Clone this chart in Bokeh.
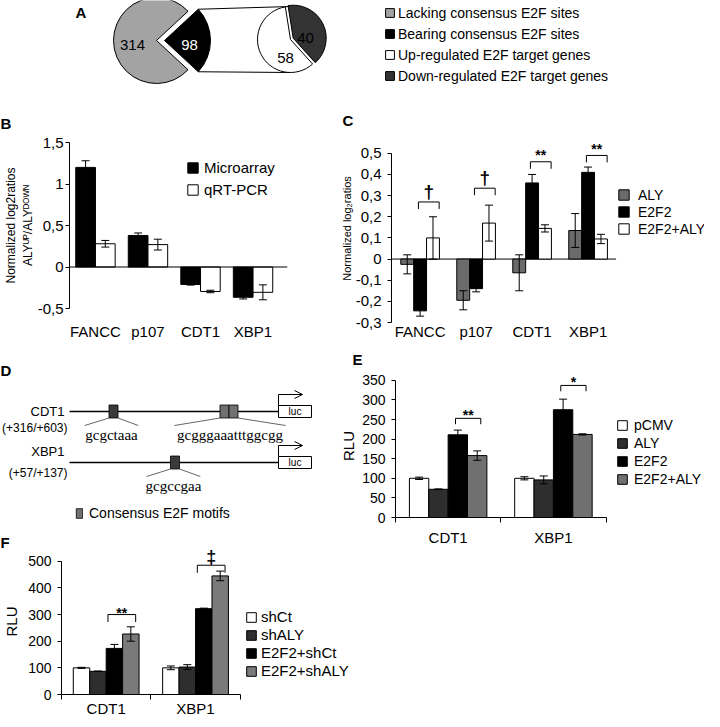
import math
import numpy as np
from bokeh.plotting import figure
from bokeh.models import (Range1d, Span, Whisker, ColumnDataSource, Legend, LegendItem,
                          FixedTicker, SingleIntervalTicker, TeeHead, Arrow, OpenHead,
                          CustomJSTickFormatter)
from bokeh.layouts import column, row
from bokeh.core.properties import value
from bokeh.embed import file_html
from bokeh.resources import INLINE

FONT = "Liberation Sans"
SERIF = "Liberation Serif"

# ---------------- data ----------------
a_outer_names = ["Lacking consensus E2F sites", "Bearing consensus E2F sites"]
a_outer_counts = [314, 98]
a_inner_names = ["Up-regulated E2F target genes", "Down-regulated E2F target genes"]
a_inner_counts = [58, 40]

genes_b = ["FANCC", "p107", "CDT1", "XBP1"]
microarray = [1.20, 0.38, -0.21, -0.365]
microarray_err = [0.08, 0.03, 0.008, 0.02]
qrtpcr = [0.28, 0.27, -0.295, -0.305]
qrtpcr_err = [0.04, 0.065, 0.015, 0.09]
b_ticks = [-0.5, 0, 0.5, 1, 1.5]

genes_c = ["FANCC", "p107", "CDT1", "XBP1"]
c_aly = [-0.025, -0.195, -0.065, 0.135]
c_aly_err = [0.045, 0.045, 0.085, 0.08]
c_e2f2 = [-0.245, -0.14, 0.36, 0.41]
c_e2f2_err = [0.025, 0.015, 0.04, 0.025]
c_e2f2aly = [0.10, 0.17, 0.145, 0.095]
c_e2f2aly_err = [0.10, 0.085, 0.017, 0.022]
c_sig = ["†", "†", "**", "**"]
c_sig_y = [0.27, 0.335, 0.46, 0.49]
c_ticks = [-0.3, -0.2, -0.1, 0, 0.1, 0.2, 0.3, 0.4, 0.5]

d_promoters = ["CDT1", "XBP1"]
d_regions = ["(+316/+603)", "(+57/+137)"]
d_motif_promoter = [0, 0, 0, 1]
d_motif_pos = [113, 224, 233, 174.5]
d_motif_shade = ["#3a3a3a", "#707070", "#707070", "#3a3a3a"]
d_seqs = ["gcgctaaa", "gcgggaaatttggcgg", "gcgccgaa"]
d_seq_motifs = [[0], [1, 2], [3]]
d_seq_pos = [111, 229.5, 173]

genes_e = ["CDT1", "XBP1"]
e_names = ["pCMV", "ALY", "E2F2", "E2F2+ALY"]
e_pcmv = [100, 100]
e_pcmv_err = [3, 4]
e_aly = [72, 96]
e_aly_err = [1, 10]
e_e2f2 = [211, 275]
e_e2f2_err = [12, 27]
e_e2f2aly = [158, 212]
e_e2f2aly_err = [12, 1.5]
e_sig = ["**", "*"]
e_sig_y = [253, 337]

genes_f = ["CDT1", "XBP1"]
f_names = ["shCt", "shALY", "E2F2+shCt", "E2F2+shALY"]
f_shct = [100, 100]
f_shct_err = [2, 7]
f_shaly = [87, 103]
f_shaly_err = [1, 9]
f_e2f2shct = [173, 322]
f_e2f2shct_err = [15, 2]
f_e2f2shaly = [227, 445]
f_e2f2shaly_err = [27, 18]
f_sig = ["**", "‡"]
f_sig_y = [300, 485]


def make_fig(width, height, x_range, y_range, left, right, top, bottom, axes=True):
    kw = {}
    if not axes:
        kw = dict(x_axis_location=None, y_axis_location=None)
    p = figure(width=width, height=height, x_range=x_range, y_range=y_range,
               toolbar_location=None, output_backend="svg", **kw)
    p.frame_align = False
    p.min_border = 0
    p.min_border_left = left
    p.min_border_right = right
    p.min_border_top = top
    p.min_border_bottom = bottom
    p.outline_line_color = None
    p.grid.visible = False
    p.background_fill_color = "white"
    p.border_fill_color = "white"
    return p


def style_axis(ax, fs="15px"):
    ax.major_label_text_font = FONT
    ax.major_label_text_font_size = fs
    ax.major_label_text_color = "black"
    ax.axis_line_color = "black"
    ax.axis_line_width = 1
    ax.major_tick_line_color = "black"
    ax.minor_tick_line_color = None
    ax.axis_label_text_font = FONT
    ax.axis_label_text_font_style = "normal"
    ax.axis_label_text_color = "black"


def add_bars(p, xs, tops, errs, width, color):
    xs = [float(v) for v in xs]
    src = ColumnDataSource(dict(x=xs, top=tops,
                                upper=[t + e for t, e in zip(tops, errs)],
                                lower=[t - e for t, e in zip(tops, errs)]))
    r = p.vbar(x="x", top="top", bottom=0, width=width, source=src,
               fill_color=color, line_color="black", line_width=1)
    w = Whisker(source=src, base="x", upper="upper", lower="lower", level="overlay",
                line_color="black", line_width=1,
                upper_head=TeeHead(size=8, line_color="black", line_width=1),
                lower_head=TeeHead(size=8, line_color="black", line_width=1))
    p.add_layout(w)
    return r


def add_brackets(p, centers, x0, x1, ys, legs, labels, sizes, offsets):
    xs = [[c + x0, c + x0, c + x1, c + x1] for c in centers]
    yss = [[y - g, y, y, y - g] for y, g in zip(ys, legs)]
    p.multi_line(xs, yss, line_color="black", line_width=1)
    p.text(x=[c + (x0 + x1) / 2 for c in centers], y=list(ys), text=list(labels),
           text_align="center", text_baseline="bottom", text_font=value(FONT),
           text_font_size=list(sizes), y_offset=list(offsets),
           text_font_style="bold", text_color="black")


def make_legend(items, loc, glyph_w, glyph_h, fs, spacing, standoff):
    lg = Legend(items=items, location=loc, orientation="vertical")
    lg.glyph_width = glyph_w
    lg.glyph_height = glyph_h
    lg.label_height = glyph_h
    lg.label_text_font = FONT
    lg.label_text_font_size = fs
    lg.label_text_color = "black"
    lg.spacing = spacing
    lg.label_standoff = standoff
    lg.padding = 0
    lg.margin = 0
    lg.border_line_color = None
    lg.background_fill_alpha = 0
    return lg


def letter(p, x, y, txt):
    p.text(x=[x], y=[y], text=[txt], text_align="left", text_baseline="alphabetic",
           text_font=value(FONT), text_font_size="15px", text_font_style="bold", text_color="black")


comma_fmt = CustomJSTickFormatter(code="return String(Math.round(tick*10)/10).replace('.', ',');")

# ---------------- Panel A (carries the B and C panel letters too) ----------------
# the pie figure's layout slot comes out 8px shorter than its canvas, hence height 134
pA = make_fig(704, 134, Range1d(0, 704), Range1d(0, 134), 0, 0, 0, 0, axes=False)
tot_out = sum(a_outer_counts)
half = math.pi * a_outer_counts[1] / tot_out
cx1, cy1, r1 = 156, 94, 43
bx, rb = cx1 + 8, 46
tot_in = sum(a_inner_counts)
cx2, cy2, r2 = 290, 95, 33
top_ang = math.radians(99)
span_dark = 2 * math.pi * a_inner_counts[1] / tot_in
d_start = top_ang - span_dark
mid_dark = top_ang - span_dark / 2
ex = 3
pA.segment(x0=[bx + rb * math.cos(half)] * 2,
           y0=[cy1 + rb * math.sin(half), cy1 - rb * math.sin(half)],
           x1=[cx2, cx2], y1=[cy2 + r2, cy2 - r2], line_color="black", line_width=1)
rA1 = pA.wedge(x=[cx1], y=[cy1], radius=r1, start_angle=half, end_angle=2 * math.pi - half,
               fill_color="#a3a3a3", line_color="black", line_width=1)
rA2 = pA.wedge(x=[bx], y=[cy1], radius=rb, start_angle=-half, end_angle=half,
               fill_color="black", line_color="black", line_width=1)
rA3 = pA.wedge(x=[cx2], y=[cy2], radius=r2, start_angle=top_ang, end_angle=d_start + 2 * math.pi,
               fill_color="white", line_color="black", line_width=1)
rA4 = pA.wedge(x=[cx2 + ex * math.cos(mid_dark)], y=[cy2 + ex * math.sin(mid_dark)], radius=r2,
               start_angle=d_start, end_angle=top_ang,
               fill_color="#333333", line_color="black", line_width=1)
pA.text(x=[132, 189, 285, 305], y=[90, 90, 77, 97],
        text=[str(v) for v in a_outer_counts + a_inner_counts],
        text_color=["black", "white", "black", "black"], text_align="center",
        text_baseline="middle", text_font=value(FONT), text_font_size="15px")
letter(pA, 75, 122, "A")
letter(pA, 0, 11, "B")
letter(pA, 342, 14, "C")
pA.add_layout(make_legend([LegendItem(label=n, renderers=[r]) for n, r in
                           zip(a_outer_names + a_inner_names, [rA1, rA2, rA3, rA4])],
                          (384, 50.5), 11, 11, "14px", 5, 3))

# ---------------- Panel B ----------------
nB = len(genes_b)
xB = np.arange(nB)
bwB = 0.375
pB = make_fig(337, 208, Range1d(-0.494, 3.656), Range1d(-0.5, 1.5), 60, 50, 8, 32)
r_mic = add_bars(pB, xB - bwB / 2, microarray, microarray_err, bwB, "black")
r_q = add_bars(pB, xB + bwB / 2, qrtpcr, qrtpcr_err, bwB, "white")
pB.add_layout(Span(location=0, dimension="width", line_color="black", line_width=1))
style_axis(pB.yaxis[0])
pB.yaxis.ticker = FixedTicker(ticks=b_ticks)
pB.yaxis.formatter = comma_fmt
pB.yaxis.major_tick_out = 4
pB.yaxis.major_tick_in = 0
pB.yaxis.major_label_standoff = 2
pB.yaxis.axis_label = "Normalized log2ratios\nALYᵁᴾ/ALYᴰᴼᵂᴺ"
pB.yaxis.axis_label_text_font_size = "12px"
pB.yaxis.axis_label_standoff = 0
style_axis(pB.xaxis[0])
pB.xaxis.ticker = FixedTicker(ticks=list(range(nB)))
pB.xaxis.major_label_overrides = {i: g for i, g in enumerate(genes_b)}
pB.xaxis.axis_line_color = None
pB.xaxis.major_tick_line_color = None
pB.xaxis.major_tick_out = 0
pB.xaxis.major_tick_in = 0
pB.xaxis.major_label_standoff = 14
pB.add_layout(make_legend([LegendItem(label="Microarray", renderers=[r_mic]),
                           LegendItem(label="qRT-PCR", renderers=[r_q])],
                          (117, 110.5), 13, 13, "15px", 5, 5))

# ---------------- Panel C ----------------
nC = len(genes_c)
xC = np.arange(nC)
bwC = 0.23
pC = make_fig(367, 208, Range1d(-0.511, 5.079), Range1d(-0.3, 0.589), 50, 0, 0, 18)
pC.segment(x0=[-0.511], x1=[nC - 0.5], y0=[0], y1=[0], line_color="black", line_width=1)
r_c1 = add_bars(pC, xC - bwC, c_aly, c_aly_err, bwC, "#6b6b6b")
r_c2 = add_bars(pC, xC, c_e2f2, c_e2f2_err, bwC, "black")
r_c3 = add_bars(pC, xC + bwC, c_e2f2aly, c_e2f2aly_err, bwC, "white")
add_brackets(pC, xC, -0.03, 0.34, c_sig_y, [0.033] * nC, c_sig,
             ["19px", "19px", "14px", "14px"], [0, 0, 1.5, 1.5])
style_axis(pC.yaxis[0])
pC.yaxis.ticker = FixedTicker(ticks=c_ticks)
pC.yaxis.formatter = comma_fmt
pC.yaxis.bounds = (-0.3, 0.5)
pC.yaxis.major_tick_out = 4
pC.yaxis.major_tick_in = 0
pC.yaxis.major_label_standoff = 6
pC.yaxis.axis_label = "Normalized log₂ratios"
pC.yaxis.axis_label_text_font_size = "11px"
pC.yaxis.axis_label_standoff = 0
style_axis(pC.xaxis[0])
pC.xaxis.ticker = FixedTicker(ticks=list(range(nC)))
pC.xaxis.major_label_overrides = {i: g for i, g in enumerate(genes_c)}
pC.xaxis.axis_line_color = None
pC.xaxis.major_tick_line_color = None
pC.xaxis.major_tick_out = 0
pC.xaxis.major_tick_in = 0
pC.xaxis.major_label_standoff = 0
pC.add_layout(make_legend([LegendItem(label=n, renderers=[r]) for n, r in
                           zip(["ALY", "E2F2", "E2F2+ALY"], [r_c1, r_c2, r_c3])],
                          (226, 85.5), 13, 13, "14px", 1, 8))

# ---------------- Panel D (carries the F panel letter too) ----------------
pD = make_fig(337, 206, Range1d(0, 337), Range1d(206, 0), 0, 0, 0, 0, axes=False)
track_y = [69, 120]
track_x0, luc_x, luc_w = 69, 278, 33
name_dy = [0, -11]
region_dy = [16, 10]
pD.segment(x0=[track_x0] * 2, x1=[luc_x] * 2, y0=track_y, y1=track_y, line_color="black", line_width=1.3)
zx0, zy0, zx1, zy1 = [], [], [], []
for seq, mids, cxs in zip(d_seqs, d_seq_motifs, d_seq_pos):
    ty = track_y[d_motif_promoter[mids[0]]]
    left = min(d_motif_pos[m] for m in mids) - 4.5
    right = max(d_motif_pos[m] for m in mids) + 4.5
    hw = len(seq) * 3.6
    zx0 += [left, right]
    zy0 += [ty + 6.5, ty + 6.5]
    zx1 += [cxs - hw + 2, cxs + hw - 2]
    zy1 += [ty + 14, ty + 14]
pD.segment(x0=zx0, y0=zy0, x1=zx1, y1=zy1, line_color="#555555", line_width=0.9)
r_motif = pD.rect(x=d_motif_pos, y=[track_y[i] for i in d_motif_promoter], width=9, height=13,
                  fill_color=d_motif_shade, line_color="black", line_width=0.8)
pD.rect(x=[luc_x + luc_w / 2] * 2, y=track_y, width=luc_w, height=12,
        fill_color="white", line_color="black", line_width=1)
pD.text(x=[luc_x + luc_w / 2] * 2, y=track_y, text=["luc"] * 2, text_align="center",
        text_baseline="middle", text_font=value(FONT), text_font_size="10px", text_color="black")
pD.segment(x0=[luc_x] * 2, x1=[luc_x] * 2, y0=[t - 6 for t in track_y], y1=[t - 17 for t in track_y],
           line_color="black", line_width=1)
for t in track_y:
    pD.add_layout(Arrow(end=OpenHead(size=8, line_width=1, line_color="black"),
                        x_start=luc_x, y_start=t - 17, x_end=luc_x + 24, y_end=t - 17,
                        line_width=1, line_color="black"))
pD.text(x=[64] * 2, y=[t + d for t, d in zip(track_y, name_dy)], text=d_promoters,
        text_align="right", text_baseline="middle", text_font=value(FONT),
        text_font_size="13px", text_color="black")
pD.text(x=[67] * 2, y=[t + d for t, d in zip(track_y, region_dy)], text=d_regions,
        text_align="right", text_baseline="middle", text_font=value(FONT),
        text_font_size="12px", text_color="black")
pD.text(x=d_seq_pos, y=[track_y[d_motif_promoter[m[0]]] + 23 for m in d_seq_motifs], text=d_seqs,
        text_align="center", text_baseline="middle", text_font=value(SERIF),
        text_font_size="15px", text_color="black")
letter(pD, 0, 28, "D")
letter(pD, 0, 200, "F")
pD.add_layout(make_legend([LegendItem(label="Consensus E2F motifs", renderers=[r_motif], index=1)],
                          (75, 27), 8, 12, "14px", 0, 6))

# ---------------- Panel E ----------------
nE = len(genes_e)
cE = np.arange(nE) + 0.5
bwE = 0.184
pE = make_fig(367, 206, Range1d(0, 2.935), Range1d(0, 364.9), 53, 0, 30, 29)
pE.title.text = "E"
pE.title.align = "left"
pE.title.offset = -43
pE.title.standoff = 13
pE.title.text_font = FONT
pE.title.text_font_size = "15px"
pE.title.text_font_style = "bold"
pE.title.text_color = "black"
e_vals = [e_pcmv, e_aly, e_e2f2, e_e2f2aly]
e_errs = [e_pcmv_err, e_aly_err, e_e2f2_err, e_e2f2aly_err]
e_cols = ["white", "#2e2e2e", "black", "#707070"]
rE = [add_bars(pE, cE + (k - 1.5) * bwE, v, e, bwE, c)
      for k, (v, e, c) in enumerate(zip(e_vals, e_errs, e_cols))]
add_brackets(pE, cE, 0.07, 0.31, e_sig_y, [15] * nE, e_sig, ["14px"] * nE, [4.5] * nE)
style_axis(pE.yaxis[0], "14px")
pE.yaxis.ticker = SingleIntervalTicker(interval=50, num_minor_ticks=0)
pE.yaxis.bounds = (0, 350)
pE.yaxis.major_tick_out = 4
pE.yaxis.major_tick_in = 0
pE.yaxis.major_label_standoff = 6
pE.yaxis.axis_label = "RLU"
pE.yaxis.axis_label_text_font_size = "15px"
pE.yaxis.axis_label_standoff = 2
style_axis(pE.xaxis[0])
pE.xaxis.ticker = FixedTicker(ticks=cE.tolist(), minor_ticks=list(range(nE + 1)))
pE.xaxis.major_label_overrides = {float(c): g for c, g in zip(cE, genes_e)}
pE.xaxis.bounds = (0, nE)
pE.xaxis.major_tick_line_color = None
pE.xaxis.major_tick_out = 5
pE.xaxis.major_tick_in = 0
pE.xaxis.minor_tick_line_color = "black"
pE.xaxis.minor_tick_out = 5
pE.xaxis.minor_tick_in = 0
pE.xaxis.major_label_standoff = 6
pE.add_layout(make_legend([LegendItem(label=n, renderers=[r]) for n, r in zip(e_names, rE)],
                          (221, 30), 12, 12, "14px", 2, 6))

# ---------------- Panel F ----------------
nF = len(genes_f)
cF = np.arange(nF) + 0.5
bwF = 0.184
pF = make_fig(704, 171, Range1d(0, 7.196), Range1d(0, 547.8), 60, 0, 0, 22)
f_vals = [f_shct, f_shaly, f_e2f2shct, f_e2f2shaly]
f_errs = [f_shct_err, f_shaly_err, f_e2f2shct_err, f_e2f2shaly_err]
f_cols = ["white", "#2e2e2e", "black", "#7a7a7a"]
rF = [add_bars(pF, cF + (k - 1.5) * bwF, v, e, bwF, c)
      for k, (v, e, c) in enumerate(zip(f_vals, f_errs, f_cols))]
add_brackets(pF, cF, 0.02, 0.33, f_sig_y, [28] * nF, f_sig, ["14px", "18px"], [6, 2])
style_axis(pF.yaxis[0], "14px")
pF.yaxis.ticker = SingleIntervalTicker(interval=100, num_minor_ticks=0)
pF.yaxis.bounds = (0, 500)
pF.yaxis.major_tick_out = 4
pF.yaxis.major_tick_in = 0
pF.yaxis.major_label_standoff = 6
pF.yaxis.axis_label = "RLU"
pF.yaxis.axis_label_text_font_size = "15px"
pF.yaxis.axis_label_standoff = 5
style_axis(pF.xaxis[0])
pF.xaxis.ticker = FixedTicker(ticks=cF.tolist(), minor_ticks=list(range(nF + 1)))
pF.xaxis.major_label_overrides = {float(c): g for c, g in zip(cF, genes_f)}
pF.xaxis.bounds = (0, nF)
pF.xaxis.major_tick_line_color = None
pF.xaxis.major_tick_out = 5
pF.xaxis.major_tick_in = 0
pF.xaxis.minor_tick_line_color = "black"
pF.xaxis.minor_tick_out = 5
pF.xaxis.minor_tick_in = 0
pF.xaxis.major_label_standoff = 0
pF.add_layout(make_legend([LegendItem(label=n, renderers=[r]) for n, r in zip(f_names, rF)],
                          (184, 15), 12, 12, "15px", 1, 4))

layout = column(pA, row(pB, pC), row(pD, pE), pF)
open("out.html", "w").write(file_html(layout, INLINE, title="E2F figure"))
